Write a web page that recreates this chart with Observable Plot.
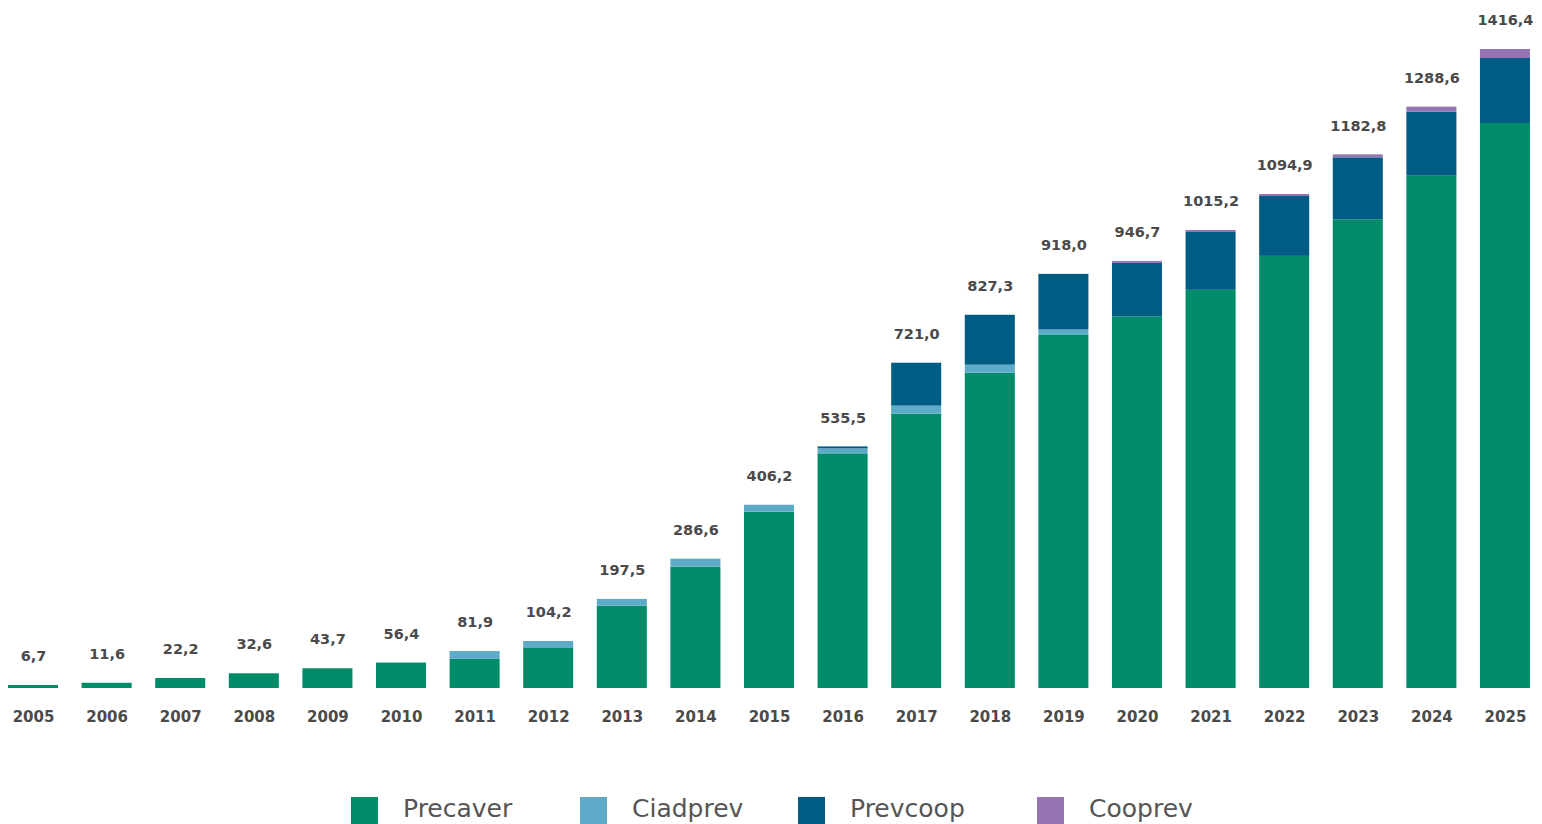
<!DOCTYPE html>
<html>
<head>
<meta charset="utf-8">
<script src="https://cdn.jsdelivr.net/npm/d3@7"></script>
<script src="https://cdn.jsdelivr.net/npm/@observablehq/plot@0.6"></script>
<style>
  html, body { margin: 0; padding: 0; background: #fff; }
  #wrap { width: 1542px; position: relative; font-family: "DejaVu Sans", sans-serif; }
  #legend { position: relative; height: 64px; }
  .item { position: absolute; top: 37px; display: flex; align-items: center; height: 27px; }
  .sw { width: 27px; height: 27px; margin-right: 25px; }
  .lab { font-size: 25px; color: #555; line-height: 27px; position: relative; top: -2px; }
</style>
</head>
<body>
<div id="wrap"><div id="chart"></div><div id="legend"></div></div>
<script>
const years = ["2005","2006","2007","2008","2009","2010","2011","2012","2013","2014","2015","2016","2017","2018","2019","2020","2021","2022","2023","2024","2025"];
const seriesNames = ["Precaver", "Ciadprev", "Prevcoop", "Cooprev"];
const seriesColors = ["#008c69", "#5eaac9", "#005c82", "#9474b2"];
const precaver = [6.7, 11.6, 22.2, 32.6, 43.7, 56.4, 64.6, 88.7, 182.3, 269.1, 390.7, 520.1, 608.2, 699.0, 783.7, 823.3, 882.6, 957.8, 1038.9, 1135.6, 1252.4];
const ciadprev = [0, 0, 0, 0, 0, 0, 17.3, 15.5, 15.2, 17.5, 15.5, 11.0, 17.7, 17.7, 11.0, 0, 0, 0, 0, 0, 0];
const prevcoop = [0, 0, 0, 0, 0, 0, 0, 0, 0, 0, 0, 4.4, 95.1, 110.6, 123.3, 119.0, 128.2, 132.7, 137.3, 142.0, 144.0];
const cooprev = [0, 0, 0, 0, 0, 0, 0, 0, 0, 0, 0, 0, 0, 0, 0, 4.4, 4.4, 4.4, 6.6, 11.0, 20.0];
const totals = [6.7, 11.6, 22.2, 32.6, 43.7, 56.4, 81.9, 104.2, 197.5, 286.6, 406.2, 535.5, 721.0, 827.3, 918.0, 946.7, 1015.2, 1094.9, 1182.8, 1288.6, 1416.4];
const legendLeft = [351, 580, 798, 1037];

const seriesValues = [precaver, ciadprev, prevcoop, cooprev];
const data = [];
seriesNames.forEach((s, i) => {
  years.forEach((y, j) => data.push({year: y, series: s, value: seriesValues[i][j]}));
});
const totalData = years.map((y, j) => ({year: y, total: totals[j]}));
const fmt = v => v.toFixed(1).replace(".", ",");

const chart = Plot.plot({
  width: 1542,
  height: 760,
  marginLeft: 8,
  marginRight: 12,
  marginTop: 0,
  marginBottom: 72,
  style: {fontFamily: "'DejaVu Sans', sans-serif", background: "#fff"},
  x: {domain: years, paddingInner: 0.32, paddingOuter: 0, round: false, label: null},
  y: {domain: [0, 1525], axis: null},
  color: {domain: seriesNames, range: seriesColors},
  marks: [
    Plot.barY(data, {x: "year", y: "value", fill: "series", order: seriesNames}),
    Plot.text(totalData, {x: "year", y: "total", text: d => fmt(d.total), dy: -29, fontSize: 14.5, fontWeight: "bold", fill: "#4a4a4a", lineAnchor: "middle"}),
    Plot.axisX({tickSize: 0, tickPadding: 23, fontSize: 15, fontWeight: "bold", color: "#4a4a4a", label: null})
  ]
});
document.getElementById("chart").appendChild(chart);

const legend = document.getElementById("legend");
seriesNames.forEach((s, i) => {
  const it = document.createElement("div");
  it.className = "item";
  it.style.left = legendLeft[i] + "px";
  it.innerHTML = `<div class="sw" style="background:${seriesColors[i]}"></div><div class="lab">${s}</div>`;
  legend.appendChild(it);
});
</script>
</body>
</html>
